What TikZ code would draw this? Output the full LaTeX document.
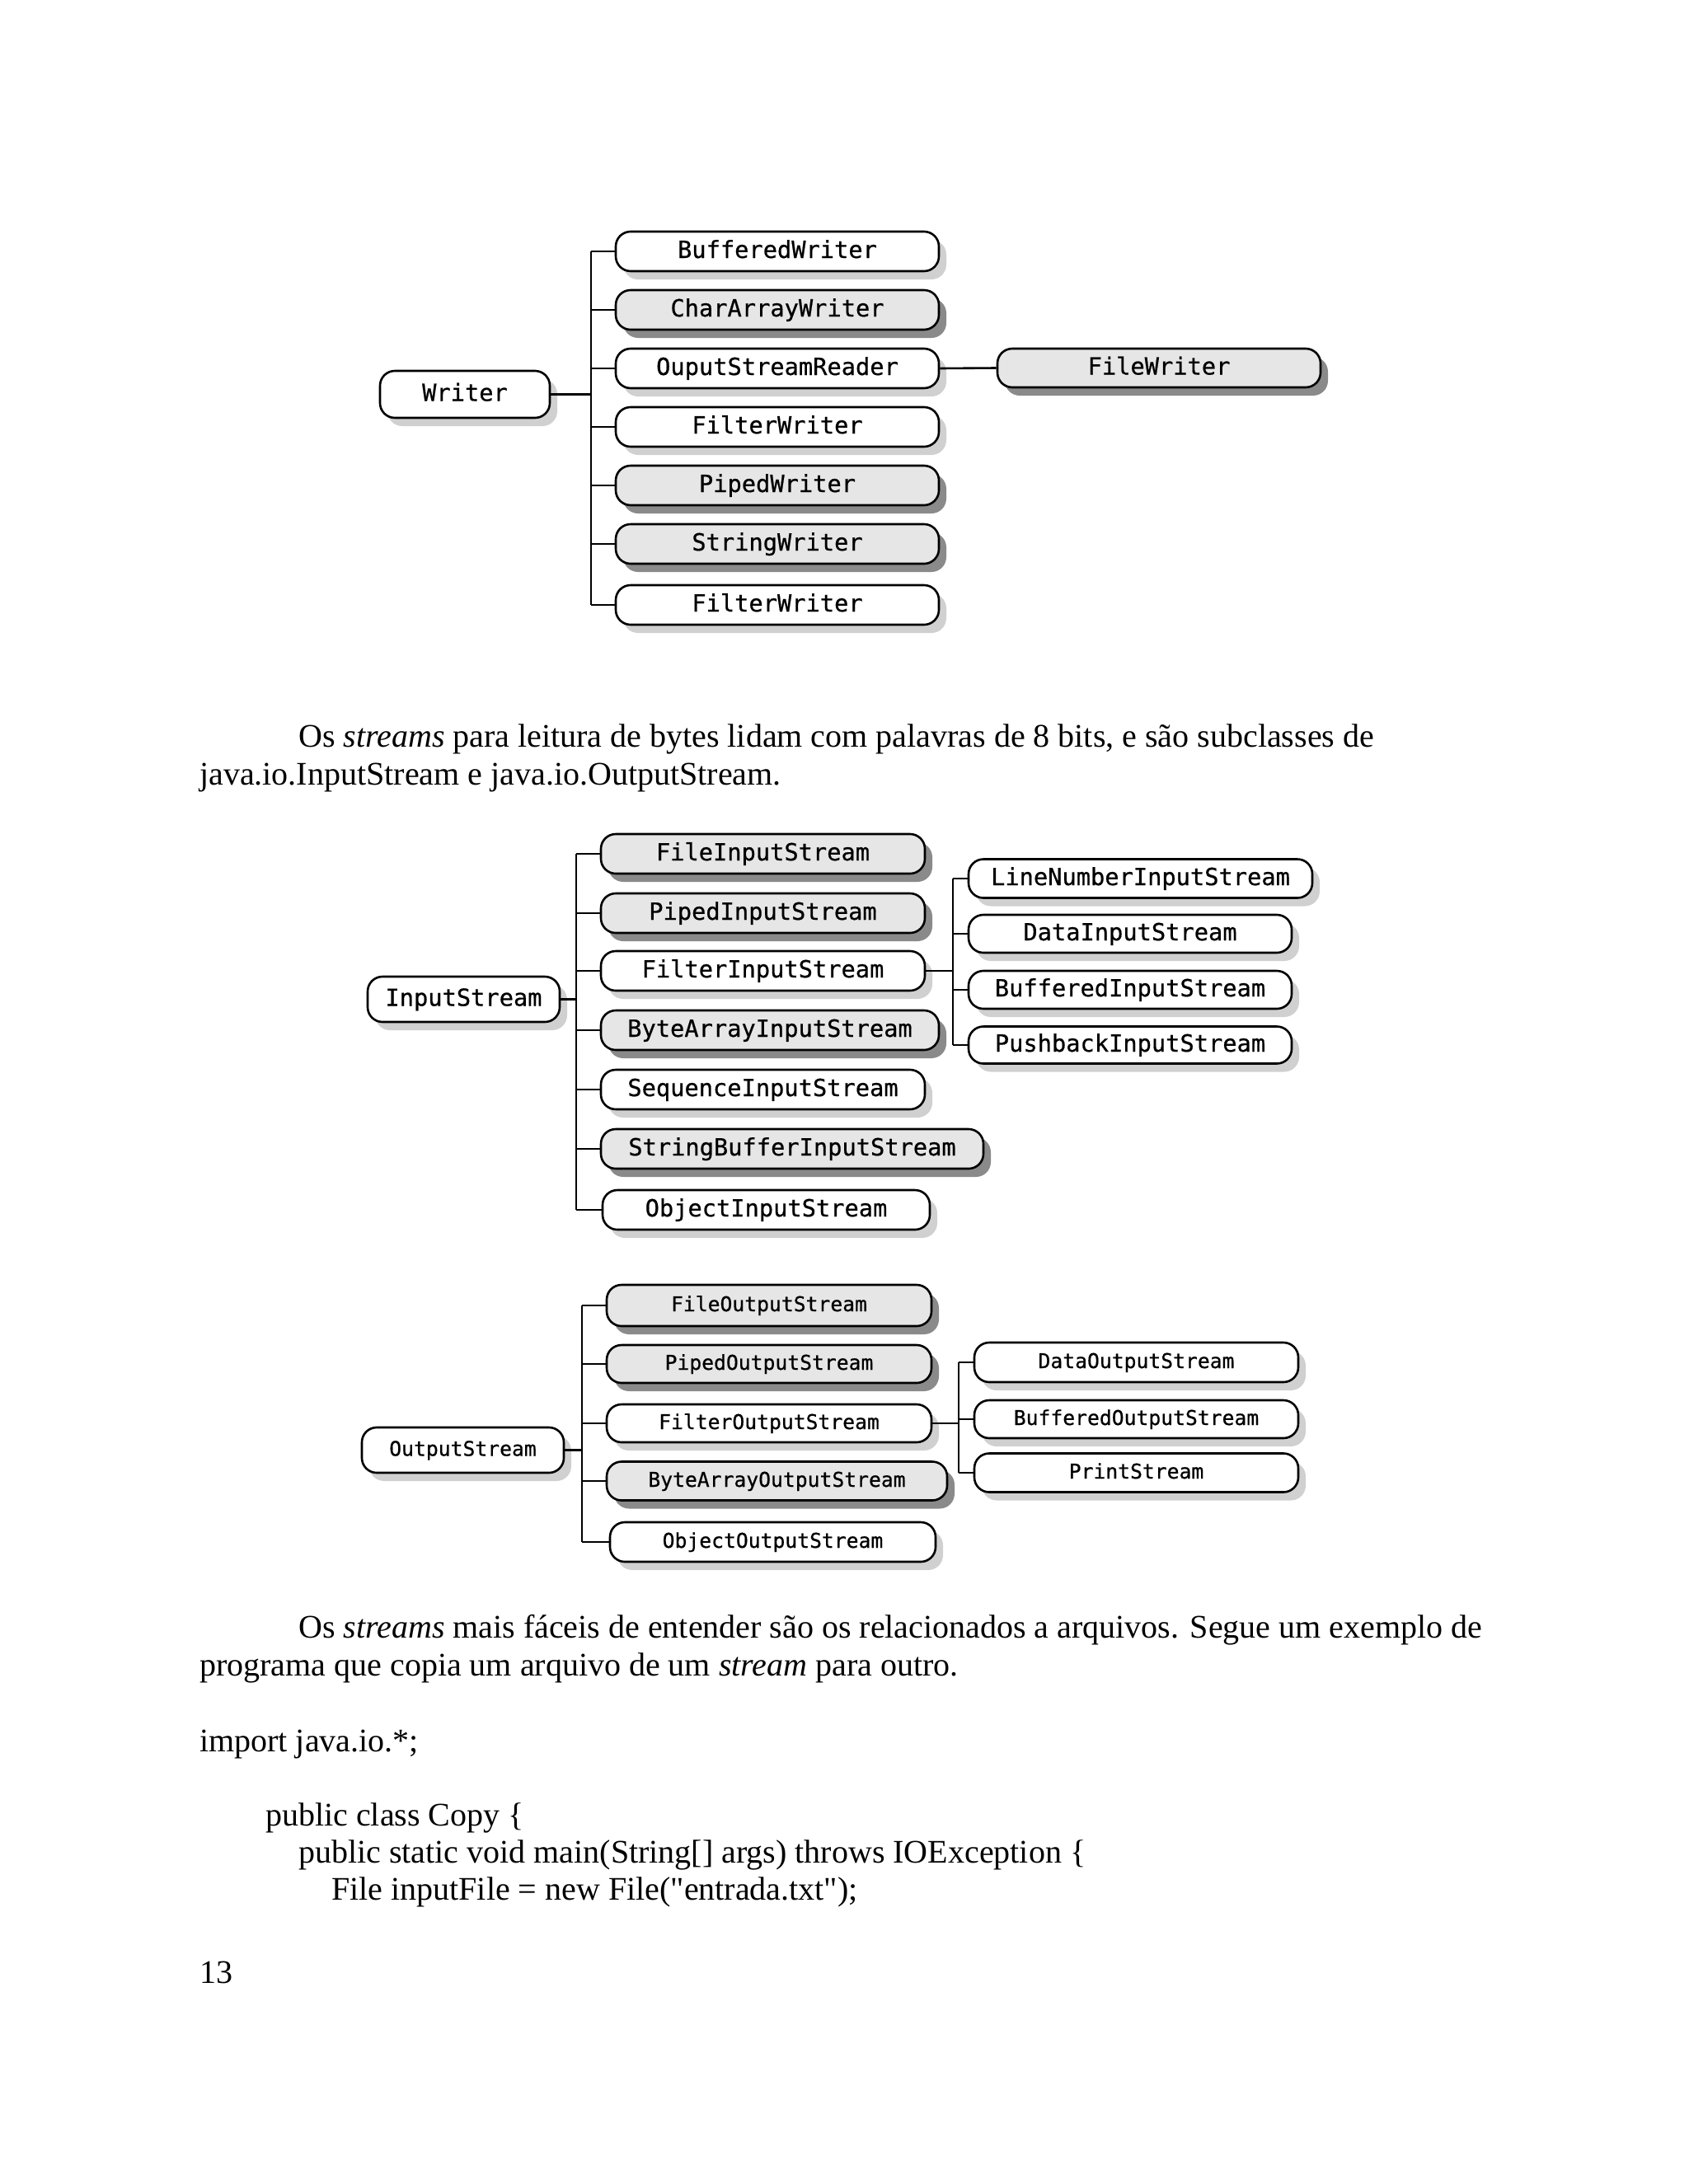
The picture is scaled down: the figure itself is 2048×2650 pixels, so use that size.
\documentclass[tikz,border=0pt]{standalone}
\usepackage{fontspec}
\setmainfont{Liberation Serif}
\newfontfamily\rawserif{Liberation Serif}
\newfontfamily\boxfont[FakeBold=0.6]{DejaVu Sans Mono}
\usetikzlibrary{shadows}
\definecolor{boxgray}{HTML}{E6E6E6}
\definecolor{shdark}{HTML}{8A8A8A}
\definecolor{shlight}{HTML}{D0D0D0}
\tikzset{
  cls/.style={draw, line width=2.6pt, rounded corners=18pt, inner sep=0pt,
    minimum height=48pt, font=\boxfont\fontsize{28.7}{30}\selectfont,
    text height=21pt, text depth=5pt},
  small/.style={font=\boxfont\fontsize{24.7}{26}\selectfont, text height=18pt, text depth=4pt},
  wbox/.style={cls, fill=white, drop shadow={shadow xshift=9pt, shadow yshift=-10pt, fill=shlight, opacity=1}},
  gbox/.style={cls, fill=boxgray, drop shadow={shadow xshift=9pt, shadow yshift=-10pt, fill=shdark, opacity=1}},
  conn/.style={line width=2.6pt},
  txt/.style={anchor=base west, inner sep=0pt, font=\fontsize{40}{46}\selectfont},
}
\begin{document}
\begin{tikzpicture}[x=1pt,y=-1pt]
\useasboundingbox[fill=white] (0,0) rectangle (2048,2650);

% ---------------- Writer diagram ----------------
\node[wbox, minimum width=206pt, minimum height=57pt] (writer) at (564,478.5) {Writer};
\node[wbox, minimum width=392pt] (w1) at (943,305) {BufferedWriter};
\node[gbox, minimum width=392pt] (w2) at (943,376) {CharArrayWriter};
\node[wbox, minimum width=392pt] (w3) at (943,447) {OuputStreamReader};
\node[wbox, minimum width=392pt] (w4) at (943,518) {FilterWriter};
\node[gbox, minimum width=392pt] (w5) at (943,589) {PipedWriter};
\node[gbox, minimum width=392pt] (w6) at (943,660) {StringWriter};
\node[wbox, minimum width=392pt] (w7) at (943,734) {FilterWriter};
\node[gbox, minimum width=392pt, minimum height=47pt] (fw) at (1406,446.5) {FileWriter};
\coordinate (wt) at (717,478.5);
\draw[conn] (writer.east) -- (wt);
\draw[conn] (wt |- w1.west) -- (wt |- w7.west);
\foreach \c in {w1,w2,w3,w4,w5,w6,w7} \draw[conn] (wt |- \c.west) -- (\c.west);
\draw[conn] (w3.east) -- (fw.west);

% ---------------- text ----------------
\node[txt] (t1) at (362,906) {Os \textit{streams} para leitura de bytes lidam com palavras de 8 bits, e são subclasses de};
\node[txt] (t2) at (242,952) {java.io.InputStream e java.io.OutputStream.};

% ---------------- InputStream diagram ----------------
\node[wbox, minimum width=233pt, minimum height=55pt] (is) at (562.5,1212.5) {InputStream};
\node[gbox, minimum width=393pt] (i1) at (925.5,1036) {FileInputStream};
\node[gbox, minimum width=393pt] (i2) at (925.5,1108) {PipedInputStream};
\node[wbox, minimum width=393pt] (i3) at (925.5,1178) {FilterInputStream};
\node[gbox, minimum width=410pt] (i4) at (934,1250) {ByteArrayInputStream};
\node[wbox, minimum width=393pt] (i5) at (925.5,1322) {SequenceInputStream};
\node[gbox, minimum width=464pt] (i6) at (961,1394) {StringBufferInputStream};
\node[wbox, minimum width=397pt] (i7) at (929.5,1468) {ObjectInputStream};
\coordinate (it) at (699,1212.5);
\draw[conn] (is.east) -- (it);
\draw[conn] (it |- i1.west) -- (it |- i7.west);
\foreach \c in {i1,i2,i3,i4,i5,i6,i7} \draw[conn] (it |- \c.west) -- (\c.west);

\node[wbox, minimum width=417pt, minimum height=47pt] (f1) at (1383.5,1066) {LineNumberInputStream};
\node[wbox, minimum width=392pt, minimum height=46pt] (f2) at (1371,1133) {DataInputStream};
\node[wbox, minimum width=392pt, minimum height=46pt] (f3) at (1371,1201) {BufferedInputStream};
\node[wbox, minimum width=392pt, minimum height=45pt] (f4) at (1371,1268) {PushbackInputStream};
\coordinate (ft) at (1156,1178);
\draw[conn] (i3.east) -- (ft);
\draw[conn] (ft |- f1.west) -- (ft |- f4.west);
\foreach \c in {f1,f2,f3,f4} \draw[conn] (ft |- \c.west) -- (\c.west);

% ---------------- OutputStream diagram ----------------
\node[wbox, small, minimum width=245pt, minimum height=55pt] (os) at (561.5,1759.5) {OutputStream};
\node[gbox, small, minimum width=394pt, minimum height=50pt] (o1) at (933,1584) {FileOutputStream};
\node[gbox, small, minimum width=394pt, minimum height=46pt] (o2) at (933,1655) {PipedOutputStream};
\node[wbox, small, minimum width=394pt, minimum height=46pt] (o3) at (933,1727) {FilterOutputStream};
\node[gbox, small, minimum width=413pt, minimum height=47pt] (o4) at (942.5,1797) {ByteArrayOutputStream};
\node[wbox, small, minimum width=395pt, minimum height=48pt] (o5) at (937.5,1871) {ObjectOutputStream};
\coordinate (ot) at (706,1759.5);
\draw[conn] (os.east) -- (ot);
\draw[conn] (ot |- o1.west) -- (ot |- o5.west);
\foreach \c in {o1,o2,o3,o4,o5} \draw[conn] (ot |- \c.west) -- (\c.west);

\node[wbox, small, minimum width=393pt, minimum height=48pt] (g1) at (1378.5,1653) {DataOutputStream};
\node[wbox, small, minimum width=393pt, minimum height=46pt] (g2) at (1378.5,1722) {BufferedOutputStream};
\node[wbox, small, minimum width=393pt, minimum height=47pt] (g3) at (1378.5,1787) {PrintStream};
\coordinate (gt) at (1163,1727);
\draw[conn] (o3.east) -- (gt);
\draw[conn] (gt |- g1.west) -- (gt |- g3.west);
\foreach \c in {g1,g2,g3} \draw[conn] (gt |- \c.west) -- (\c.west);

% ---------------- text ----------------
\node[txt] (t3) at (362,1987) {Os \textit{streams} mais fáceis de entender são os relacionados a arquivos. Segue um exemplo de};
\node[txt] (t4) at (242,2033) {programa que copia um arquivo de um \textit{stream} para outro.};
\node[txt] (t5) at (242,2125) {import java.io.*;};
\node[txt] (t6) at (322,2215) {public class Copy \{};
\node[txt] (t7) at (362,2260) {public static void main(String[] args) throws IOException \{};
\node[txt] (t8) at (402,2305) {File inputFile = new File({\rawserif"}entrada.txt{\rawserif"});};
\node[txt] (t9) at (242,2406) {13};
\end{tikzpicture}
\end{document}
